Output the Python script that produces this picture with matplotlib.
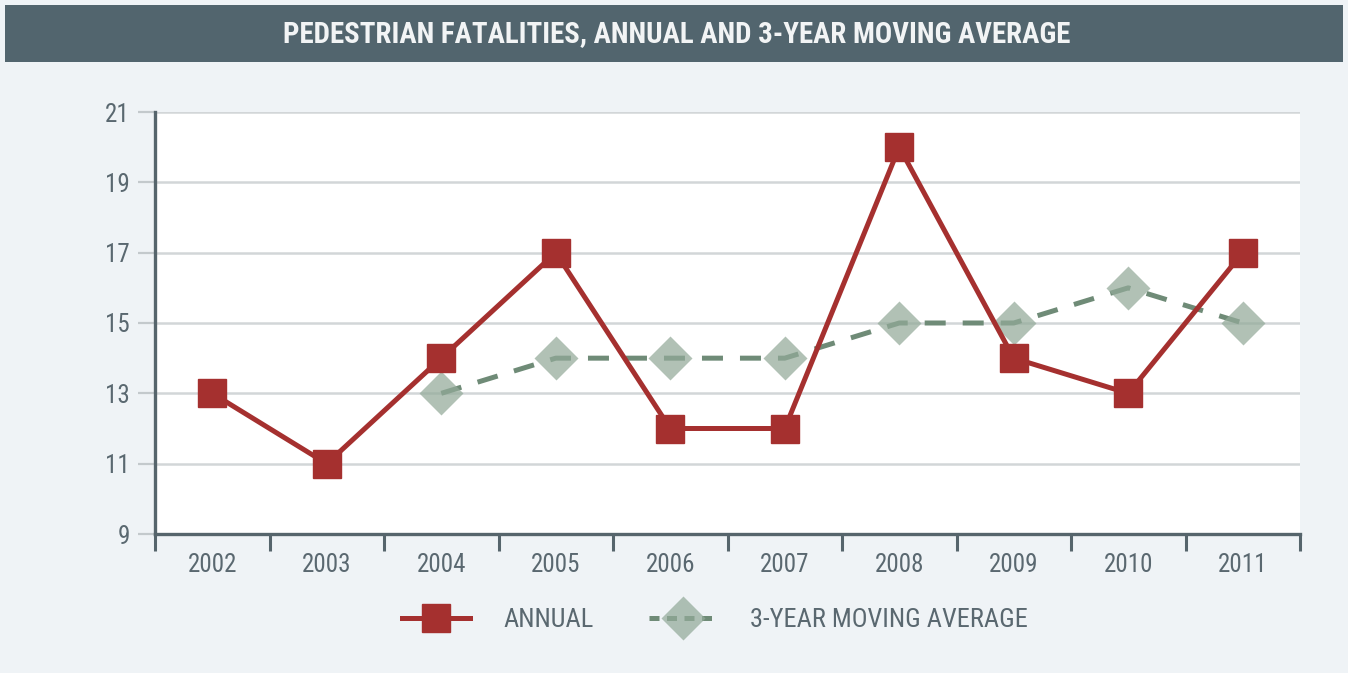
import matplotlib
matplotlib.use("Agg")
import matplotlib.pyplot as plt
from matplotlib import font_manager
from matplotlib.patches import Rectangle
from matplotlib.lines import Line2D

years = ["2002", "2003", "2004", "2005", "2006", "2007", "2008", "2009", "2010", "2011"]
annual = [13, 11, 14, 17, 12, 12, 20, 14, 13, 17]
moving_avg = [None, None, 13, 14, 14, 14, 15, 15, 16, 15]
y_ticks = [9, 11, 13, 15, 17, 19, 21]
title = "PEDESTRIAN FATALITIES, ANNUAL AND 3-YEAR MOVING AVERAGE"

names = {f.name for f in font_manager.fontManager.ttflist}
prefs = ["Liberation Sans Narrow", "Roboto Condensed", "Archivo Narrow",
         "PT Sans Narrow", "Asap Condensed", "Liberation Sans"]
fam = [f for f in prefs if f in names] + ["DejaVu Sans"]
plt.rcParams['font.family'] = fam

BG = "#eff3f6"
BAR = "#52656e"
TXT = "#5a6870"
AX = "#56656c"
GRID = "#d2d6d8"
RED = "#a5302f"
GRN_LINE = "#6f8b77"
GRN_MK = "#93aa99"

fig = plt.figure(figsize=(13.48, 6.73), dpi=100)
fig.patch.set_facecolor(BG)

# title bar
fig.patches.append(Rectangle((5/1348, 1-62/673), 1338/1348, 57/673,
                             transform=fig.transFigure, facecolor=BAR,
                             edgecolor="none", zorder=0))
fig.text(677/1348, 1-34/673, title, color="#f2f4f5", fontsize=20.8,
         fontweight="bold", ha="center", va="center")

ax = fig.add_axes([155/1348, 1-534/673, 1145/1348, 422/673])
ax.set_facecolor("white")

x = list(range(len(years)))
DASH = (0, (4.2, 3.4))
ax.plot(x, annual, color=RED, lw=3.6, marker="s", ms=20, mfc=RED, mec=RED,
        zorder=4)
mx = [i for i, v in enumerate(moving_avg) if v is not None]
my = [v for v in moving_avg if v is not None]
ax.plot(mx, my, color=GRN_LINE, lw=3.6, ls=DASH, zorder=3)
ax.plot(mx, my, ls="none", marker="D", ms=22, mfc=GRN_MK, mec="none",
        alpha=0.72, zorder=3.5)

ax.set_xlim(-0.5, len(years) - 0.5)
ax.set_ylim(9, 21)
ax.set_yticks(y_ticks)
ax.set_yticklabels([str(t) for t in y_ticks])
ax.set_xticks([i - 0.5 for i in range(len(years) + 1)])
ax.set_xticklabels([])
ax.set_xticks(x, minor=True)
ax.set_xticklabels(years, minor=True)
ax.tick_params(axis="x", which="major", length=12, width=2.2, color=AX, direction="out")
ax.tick_params(axis="x", which="minor", length=0, labelsize=18, labelcolor=TXT, pad=14)
ax.tick_params(axis="y", length=12, width=1.6, color="#c3c9cc", labelsize=18,
               labelcolor=TXT, pad=6)

for yv in y_ticks[1:]:
    ax.axhline(yv, color=GRID, lw=1.8, zorder=1)

for s in ["top", "right"]:
    ax.spines[s].set_visible(False)
for s in ["left", "bottom"]:
    ax.spines[s].set_color(AX)
    ax.spines[s].set_linewidth(2.4)

handles = [
    Line2D([], [], color=RED, lw=3.6, marker="s", ms=20, mfc=RED, mec=RED),
    (Line2D([], [], color=GRN_LINE, lw=3.6, ls=(0, (2.0, 1.5))),
     Line2D([], [], ls="none", marker="D", ms=22, mfc=GRN_MK, mec="none", alpha=0.72)),
]
leg = fig.legend(handles, ["ANNUAL", "3-YEAR MOVING AVERAGE"], loc="center",
                 bbox_to_anchor=(715/1348, 1-620/673), ncol=2, frameon=False,
                 fontsize=19, handlelength=2.6, columnspacing=2.1, handletextpad=1.25)
for t in leg.get_texts():
    t.set_color(TXT)

fig.savefig("out.png", dpi=100, facecolor=BG)
